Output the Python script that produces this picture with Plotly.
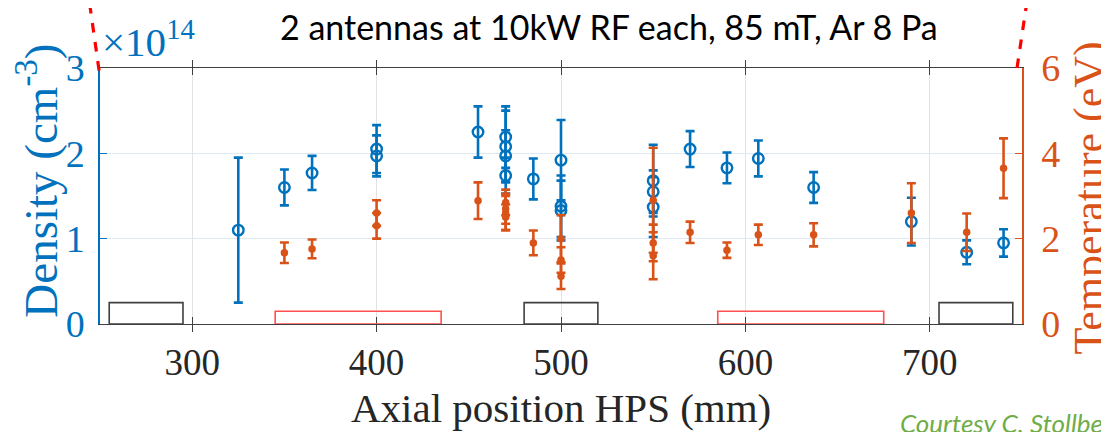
import plotly.graph_objects as go

# ---- data (density in units of 1e14 cm^-3, temperature in eV) ----
x_density = [325, 350, 365, 400, 400, 455, 470, 470, 470, 470, 485, 500, 500, 500,
             550, 550, 550, 570, 590, 607, 637, 690, 720, 740]
density = [1.10, 1.60, 1.77, 2.05, 1.97, 2.25, 2.19, 2.08, 1.97, 1.74, 1.70, 1.92, 1.38, 1.33,
           1.68, 1.55, 1.37, 2.05, 1.83, 1.94, 1.60, 1.20, 0.84, 0.95]
density_err = [0.85, 0.21, 0.20, 0.28, 0.24, 0.30, 0.36, 0.42, 0.30, 0.21, 0.24, 0.47, 0.36, 0.35,
               0.42, 0.25, 0.35, 0.21, 0.18, 0.21, 0.18, 0.28, 0.14, 0.16]

x_temp = [350, 365, 400, 400, 455, 470, 470, 470, 470, 485, 500, 500, 500,
          550, 550, 550, 570, 590, 607, 637, 690, 720, 740]
temperature = [1.67, 1.76, 2.60, 2.30, 2.89, 2.85, 2.70, 2.60, 2.50, 1.90, 2.00, 1.50, 1.12,
               2.90, 1.90, 1.60, 2.15, 1.73, 2.09, 2.09, 2.60, 2.15, 3.65]
temperature_err = [0.24, 0.22, 0.30, 0.30, 0.43, 0.30, 0.35, 0.40, 0.30, 0.29, 0.55, 0.30, 0.30,
                   1.23, 0.43, 0.55, 0.25, 0.18, 0.24, 0.27, 0.70, 0.44, 0.70]

# antenna (red) and coil (black) outlines along the axis
black_boxes = [(255, 295), (480, 520), (705, 745)]
black_height = 0.25
red_boxes = [(345, 435), (585, 675)]
red_height = 0.15

x_ticks = [300, 400, 500, 600, 700]

BLUE = "#0072BD"
ORANGE = "#D95319"
SERIF = "Liberation Serif"

fig = go.Figure()

fig.add_trace(go.Scatter(
    x=x_density, y=density, mode="markers",
    marker=dict(symbol="circle-open", size=10.5, color=BLUE, line=dict(width=2.4, color=BLUE)),
    error_y=dict(type="data", array=density_err, color=BLUE, thickness=2.6, width=4.5),
    showlegend=False, yaxis="y", cliponaxis=False,
))
fig.add_trace(go.Scatter(
    x=x_temp, y=temperature, mode="markers",
    marker=dict(symbol="circle", size=7.5, color=ORANGE),
    error_y=dict(type="data", array=temperature_err, color=ORANGE, thickness=2.6, width=4.5),
    showlegend=False, yaxis="y2", cliponaxis=False,
))

shapes = []
for x0, x1 in black_boxes:
    shapes.append(dict(type="rect", xref="x", yref="y", x0=x0, x1=x1, y0=0, y1=black_height,
                       line=dict(color="#404040", width=1.6), fillcolor="rgba(0,0,0,0)"))
for x0, x1 in red_boxes:
    shapes.append(dict(type="rect", xref="x", yref="y", x0=x0, x1=x1, y0=0, y1=red_height,
                       line=dict(color="#FF5050", width=1.6), fillcolor="rgba(0,0,0,0)"))
# red dashed guide lines at the top corners
shapes.append(dict(type="line", xref="paper", yref="paper", x0=-0.001, y0=0.99, x1=-0.012, y1=1.27,
                   line=dict(color="#FF0000", width=3.2, dash="dash")))
shapes.append(dict(type="line", xref="paper", yref="paper", x0=0.9946, y0=1.0, x1=1.0058, y1=1.27,
                   line=dict(color="#FF0000", width=3.2, dash="dash")))

annotations = [
    dict(text="2 antennas at 10kW RF each, 85 mT, Ar 8 Pa", xref="paper", yref="paper",
         x=0.552, y=1.0, yshift=42, xanchor="center", yanchor="middle",
         showarrow=False, font=dict(family="Lato", size=34, color="#000000")),
    dict(text="×10<sup>14</sup>", xref="paper", yref="paper", x=0, y=1, xshift=0, yshift=1,
         xanchor="left", yanchor="bottom", showarrow=False,
         font=dict(family=SERIF, size=41, color=BLUE)),
    dict(text="Density (cm<sup>-3</sup>)", xref="paper", yref="paper", x=0, y=0.56,
         xshift=-62, xanchor="center", yanchor="middle", textangle=-90, showarrow=False,
         font=dict(family=SERIF, size=47, color=BLUE)),
    dict(text="Temperature (eV)", xref="paper", yref="paper", x=1, y=0.49,
         xshift=68, xanchor="center", yanchor="middle", textangle=-90, showarrow=False,
         font=dict(family=SERIF, size=44, color=ORANGE)),
    dict(text="Axial position HPS (mm)", xref="paper", yref="paper", x=0.5, y=-0.33,
         xanchor="center", yanchor="middle", showarrow=False,
         font=dict(family=SERIF, size=41, color="#262626")),
    dict(text="<i>Courtesy C. Stollberg</i>", xref="paper", yref="paper",
         x=(890 - 92) / 922, y=-0.318, xanchor="left", yanchor="top",
         showarrow=False, font=dict(family="Lato", size=26, color="#70AD47")),
]

fig.update_layout(
    width=1101, height=424,
    margin=dict(l=92, r=87, t=60, b=108),
    paper_bgcolor="white", plot_bgcolor="white",
    shapes=shapes, annotations=annotations,
    xaxis=dict(range=[250, 750], tickvals=x_ticks, ticks="inside", ticklen=7, tickwidth=1.3,
               tickcolor="#404040", showline=True, linecolor="#404040", linewidth=1.3,
               mirror="allticks", showgrid=True, gridcolor="#E3E3E3", gridwidth=1,
               zeroline=False, ticklabelstandoff=5,
               tickfont=dict(family=SERIF, size=37, color="#262626")),
    yaxis=dict(range=[0, 3], tickvals=[0, 1, 2, 3], ticks="inside", ticklen=7, tickwidth=1.3,
               tickcolor=BLUE, showline=True, linecolor=BLUE, linewidth=1.5,
               showgrid=True, gridcolor="#DDEAF6", gridwidth=1, zeroline=False,
               ticklabelstandoff=6, tickfont=dict(family=SERIF, size=38, color=BLUE)),
    yaxis2=dict(range=[0, 6], tickvals=[0, 2, 4, 6], overlaying="y", side="right",
                ticks="inside", ticklen=7, tickwidth=1.3, tickcolor=ORANGE,
                showline=True, linecolor=ORANGE, linewidth=1.5, showgrid=False,
                zeroline=False, ticklabelstandoff=10,
                tickfont=dict(family=SERIF, size=38, color=ORANGE)),
)

fig.write_html("out.html")
